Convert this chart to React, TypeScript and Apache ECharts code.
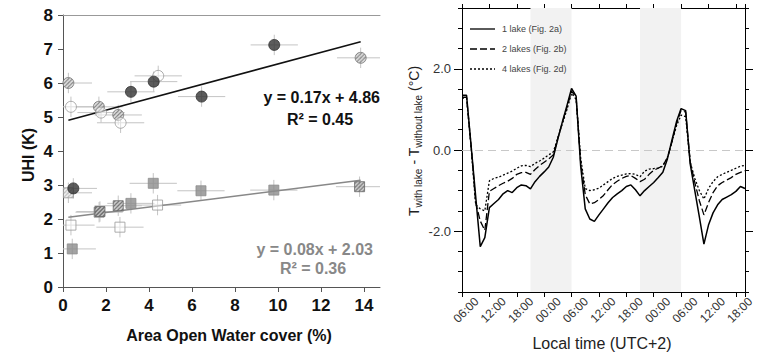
import React, { useEffect, useRef } from "react";
import * as echarts from "echarts";

// ---------- Left panel data ----------
const hatchCircles = [[0.25, 6.0], [1.67, 5.3], [2.57, 5.06], [13.85, 6.74]];
const openCircles = [[0.37, 5.3], [1.77, 5.13], [2.68, 4.83], [4.43, 6.21]];
const darkCircles = [[3.16, 5.74], [4.22, 6.04], [6.45, 5.6], [9.83, 7.12], [0.48, 2.9]];
const lightHatchSquares = [[0.25, 2.77]];
const openSquares = [[0.37, 1.82], [2.65, 1.76], [4.4, 2.41]];
const hatchSquares = [[1.72, 2.22], [2.57, 2.39], [13.8, 2.95]];
const graySquares = [[0.43, 1.12], [1.68, 2.2], [3.16, 2.46], [4.2, 3.05], [6.42, 2.83], [9.81, 2.85]];
const xErrors = [1.1];
const yErrors = [0.3];
const upperFit = [0.17, 4.86, 0.45]; // slope, intercept, r2
const lowerFit = [0.08, 2.03, 0.36];
const fitRange = [0.25, 13.85];
const leftXTicks = [0, 2, 4, 6, 8, 10, 12, 14];

// ---------- Right panel data ----------
const hours = [0, 1, 2, 3, 4, 5, 6, 7, 8, 9, 10, 11, 12, 13, 14, 15, 16, 17, 18, 19, 20, 21, 22, 23, 24, 25, 26, 27, 28, 29, 30,
  31, 32, 33, 34, 35, 36, 37, 38, 39, 40, 41, 42, 43, 44, 45, 46, 47, 48, 49, 50, 51, 52, 53, 54, 55, 56, 57, 58, 59, 60, 61, 62];
const oneLake = [1.35, 1.35, 0.1, -1.15, -2.38, -2.16, -1.42, -1.32, -1.22, -1.08, -1.0, -1.05, -0.93, -0.86, -0.88, -0.96,
  -0.78, -0.65, -0.54, -0.42, -0.18, 0.27, 0.7, 1.1, 1.52, 1.33, -0.4, -1.45, -1.7, -1.76, -1.6, -1.45, -1.3, -1.17, -1.08,
  -1.0, -0.9, -0.86, -0.98, -1.13, -1.0, -0.9, -0.8, -0.68, -0.55, -0.22, 0.25, 0.7, 1.02, 0.97, -0.35, -1.0, -1.65, -2.32,
  -1.85, -1.55, -1.35, -1.22, -1.16, -1.1, -1.02, -0.9, -0.95];
const twoLakes = [1.3, 1.3, 0.1, -1.3, -1.75, -1.98, -1.02, -0.95, -0.88, -0.82, -0.77, -0.7, -0.6, -0.56, -0.55, -0.6,
  -0.48, -0.38, -0.3, -0.22, -0.12, 0.3, 0.68, 1.05, 1.45, 1.3, -0.3, -1.1, -1.33, -1.3, -1.22, -1.12, -0.98, -0.85, -0.77,
  -0.7, -0.65, -0.63, -0.7, -0.78, -0.72, -0.6, -0.5, -0.45, -0.38, -0.2, 0.2, 0.65, 0.98, 0.93, -0.3, -0.8, -1.25, -1.6,
  -1.3, -1.05, -0.88, -0.8, -0.74, -0.68, -0.6, -0.55, -0.51];
const fourLakes = [1.28, 1.28, 0.05, -1.35, -1.45, -1.5, -0.76, -0.7, -0.67, -0.62, -0.57, -0.52, -0.45, -0.39, -0.38, -0.41,
  -0.33, -0.27, -0.2, -0.12, -0.05, 0.3, 0.65, 1.0, 1.4, 1.25, -0.2, -0.95, -1.0, -0.98, -0.94, -0.86, -0.78, -0.7, -0.65,
  -0.62, -0.59, -0.58, -0.6, -0.66, -0.52, -0.47, -0.46, -0.44, -0.4, -0.18, 0.2, 0.6, 0.86, 0.82, -0.3, -0.7, -1.0, -1.21,
  -0.95, -0.78, -0.66, -0.6, -0.55, -0.5, -0.45, -0.4, -0.38];
const seriesNames = ["1 lake (Fig. 2a)", "2 lakes (Fig. 2b)", "4 lakes (Fig. 2d)"];
const seriesDashes: (number[] | null)[] = [null, [7, 3], [2, 2]];
const timeTicks = [0, 6, 12, 18, 24, 30, 36, 42, 48, 54, 60];
const timeLabels = ["06:00", "12:00", "18:00", "00:00", "06:00", "12:00", "18:00", "00:00", "06:00", "12:00", "18:00"];
const nightPeriods = [[15, 24], [39, 48]];
const yLabelValues = [-2, 0, 2];

const FONT = "'Liberation Sans', Arial, Helvetica, sans-serif";

const pair = (xs: number[], ys: number[]) => xs.map((x, i) => [x, ys[i]]);
const fitLine = (f: number[]) => fitRange.map((x) => [x, f[0] * x + f[1]]);

function hatchPattern(bg: string, fg: string, symbolSize: number) {
  const c = document.createElement("canvas");
  c.width = 4;
  c.height = 4;
  const ctx = c.getContext("2d")!;
  ctx.fillStyle = bg;
  ctx.fillRect(0, 0, 4, 4);
  ctx.strokeStyle = fg;
  ctx.lineWidth = 1.1;
  ctx.beginPath();
  ctx.moveTo(-1, 5);
  ctx.lineTo(5, -1);
  ctx.moveTo(-1, 1);
  ctx.lineTo(1, -1);
  ctx.moveTo(3, 5);
  ctx.lineTo(5, 3);
  ctx.stroke();
  const s = 2 / symbolSize;
  return { type: "pattern", image: c, repeat: "repeat", scaleX: s, scaleY: s };
}

export default function App() {
  const ref = useRef<HTMLDivElement>(null);
  useEffect(() => {
    if (!ref.current) return;
    const chart = echarts.init(ref.current, null, { renderer: "svg" });
    const allPoints = [
      ...hatchCircles, ...openCircles, ...darkCircles,
      ...lightHatchSquares, ...openSquares, ...hatchSquares, ...graySquares,
    ];
    const xErr = xErrors[0];
    const yErr = yErrors[0];
    const lineBase = {
      type: "line",
      xAxisIndex: 2,
      yAxisIndex: 1,
      symbol: "none",
      showSymbol: false,
      smooth: false,
    };
    const noZero = { onZero: false };
    const legendGraphics: any[] = [];
    seriesNames.forEach((name, i) => {
      const y = 29 + i * 20;
      legendGraphics.push({
        type: "line", z: 100,
        shape: { x1: 470, y1: y, x2: 495, y2: y },
        style: { stroke: "#000", lineWidth: 1.3, lineDash: seriesDashes[i] || undefined },
      });
      legendGraphics.push({
        type: "text", x: 502, y, z: 100,
        style: { text: name, font: `9px ${FONT}`, fill: "#444", textAlign: "left", textVerticalAlign: "middle" },
      });
    });
    const option: any = {
      animation: false,
      backgroundColor: "#ffffff",
      textStyle: { fontFamily: FONT },
      grid: [
        { left: 63, right: 381, top: 15, bottom: 65 },
        { left: 462, right: 16, top: 8, bottom: 60 },
      ],
      xAxis: [
        {
          gridIndex: 0, type: "value", min: 0, max: 14.75,
          axisLine: { ...noZero, lineStyle: { color: "#555", width: 1 } },
          axisTick: { show: true, length: 5, customValues: leftXTicks, lineStyle: { color: "#555" } },
          axisLabel: {
            customValues: leftXTicks, margin: 10,
            fontSize: 17, fontWeight: "bold", color: "#111", fontFamily: FONT,
          },
          splitLine: { show: false },
        },
        {
          gridIndex: 0, type: "value", min: 0, max: 14.75, position: "top",
          axisLine: { show: true, ...noZero, lineStyle: { color: "#999" } },
          axisTick: { show: false }, axisLabel: { show: false }, splitLine: { show: false },
        },
        {
          gridIndex: 1, type: "value", min: 0, max: 62, interval: 6,
          axisLine: { ...noZero, lineStyle: { color: "#000", width: 1 } },
          axisTick: { show: true, length: 5, lineStyle: { color: "#000" } },
          axisLabel: { show: false },
          splitLine: { show: false },
        },
        {
          gridIndex: 1, type: "value", min: 0, max: 62, interval: 6, position: "top",
          axisLine: { show: true, ...noZero, lineStyle: { color: "#000" } },
          axisTick: { show: true, length: 4, lineStyle: { color: "#000" } },
          axisLabel: { show: false }, splitLine: { show: false },
        },
      ],
      yAxis: [
        {
          gridIndex: 0, type: "value", min: 0, max: 8, interval: 1,
          axisLine: { show: true, ...noZero, lineStyle: { color: "#555" } },
          axisTick: { show: true, length: 5, lineStyle: { color: "#555" } },
          axisLabel: { margin: 10, fontSize: 17, fontWeight: "bold", color: "#111", fontFamily: FONT },
          splitLine: { show: false },
        },
        {
          gridIndex: 1, type: "value", min: -3.5, max: 3.5, interval: 0.5,
          axisLine: { show: true, ...noZero, lineStyle: { color: "#000" } },
          axisTick: { show: true, length: 4, lineStyle: { color: "#000" } },
          axisLabel: {
            customValues: yLabelValues, margin: 11, fontSize: 13, color: "#333", fontFamily: FONT,
            formatter: (v: number) => v.toFixed(1),
          },
          splitLine: { show: false },
        },
        {
          gridIndex: 1, type: "value", min: -3.5, max: 3.5, interval: 0.5, position: "right",
          axisLine: { show: true, ...noZero, lineStyle: { color: "#000" } },
          axisTick: { show: true, length: 4, lineStyle: { color: "#000" } },
          axisLabel: { show: false }, splitLine: { show: false },
        },
        {
          gridIndex: 1, type: "value", min: -3.5, max: 3.5, position: "left",
          axisLine: { show: false, ...noZero },
          axisTick: { show: true, length: 8, customValues: yLabelValues, lineStyle: { color: "#000" } },
          axisLabel: { show: false }, splitLine: { show: false },
        },
        {
          gridIndex: 1, type: "value", min: -3.5, max: 3.5, position: "right",
          axisLine: { show: false, ...noZero },
          axisTick: { show: true, length: 8, customValues: yLabelValues, lineStyle: { color: "#000" } },
          axisLabel: { show: false }, splitLine: { show: false },
        },
      ],
      series: [
        {
          type: "custom", xAxisIndex: 0, yAxisIndex: 0, silent: true, clip: true, z: 1,
          data: allPoints,
          renderItem: (params: any, api: any) => {
            const x = api.value(0);
            const y = api.value(1);
            const l = api.coord([Math.max(0, x - xErr), y]);
            const r = api.coord([x + xErr, y]);
            const t = api.coord([x, y + yErr]);
            const b = api.coord([x, y - yErr]);
            const st = { stroke: "#c4c4c4", lineWidth: 1 };
            return {
              type: "group",
              children: [
                { type: "line", shape: { x1: l[0], y1: l[1], x2: r[0], y2: r[1] }, style: st },
                { type: "line", shape: { x1: t[0], y1: t[1], x2: b[0], y2: b[1] }, style: st },
              ],
            };
          },
        },
        {
          // rotated time-of-day tick labels for the right panel
          type: "custom", xAxisIndex: 2, yAxisIndex: 1, silent: true, clip: false, z: 10,
          data: timeTicks.map((t, i) => [t, -3.5, i]),
          renderItem: (params: any, api: any) => {
            const p = api.coord([api.value(0), api.value(1)]);
            const label = timeLabels[api.value(2)];
            return {
              type: "text",
              x: p[0] + 4,
              y: p[1] + 18,
              rotation: Math.PI / 4,
              style: {
                text: label, font: `12px ${FONT}`, fill: "#333",
                textAlign: "center", textVerticalAlign: "middle",
              },
            };
          },
        },
        {
          type: "line", xAxisIndex: 0, yAxisIndex: 0, data: fitLine(upperFit), symbol: "none",
          lineStyle: { color: "#111", width: 1.5 }, z: 2, silent: true,
        },
        {
          type: "line", xAxisIndex: 0, yAxisIndex: 0, data: fitLine(lowerFit), symbol: "none",
          lineStyle: { color: "#888", width: 1.5 }, z: 2, silent: true,
        },
        {
          type: "scatter", xAxisIndex: 0, yAxisIndex: 0, data: hatchCircles, symbol: "circle", symbolSize: 11, z: 3,
          itemStyle: { color: hatchPattern("#e0e0e0", "#5a5a5a", 11), borderColor: "#777", borderWidth: 1 },
        },
        {
          type: "scatter", xAxisIndex: 0, yAxisIndex: 0, data: openCircles, symbol: "circle", symbolSize: 11, z: 3,
          itemStyle: { color: "rgba(255,255,255,0.6)", borderColor: "#999", borderWidth: 1 },
        },
        {
          type: "scatter", xAxisIndex: 0, yAxisIndex: 0, data: darkCircles, symbol: "circle", symbolSize: 11, z: 4,
          itemStyle: { color: "#333", borderColor: "#333", borderWidth: 1 },
        },
        {
          type: "scatter", xAxisIndex: 0, yAxisIndex: 0, data: graySquares, symbol: "rect", symbolSize: 10, z: 3,
          itemStyle: { color: "#8c8c8c", borderColor: "#8c8c8c", borderWidth: 1 },
        },
        {
          type: "scatter", xAxisIndex: 0, yAxisIndex: 0, data: openSquares, symbol: "rect", symbolSize: 10, z: 3,
          itemStyle: { color: "rgba(255,255,255,0.6)", borderColor: "#999", borderWidth: 1 },
        },
        {
          type: "scatter", xAxisIndex: 0, yAxisIndex: 0, data: hatchSquares, symbol: "rect", symbolSize: 10, z: 4,
          itemStyle: { color: hatchPattern("#d4d4d4", "#333", 10), borderColor: "#666", borderWidth: 1 },
        },
        {
          type: "scatter", xAxisIndex: 0, yAxisIndex: 0, data: lightHatchSquares, symbol: "rect", symbolSize: 10, z: 3,
          itemStyle: { color: hatchPattern("#f4f4f4", "#a0a0a0", 10), borderColor: "#999", borderWidth: 1 },
        },
        {
          ...lineBase, name: seriesNames[0], data: pair(hours, oneLake),
          lineStyle: { color: "#000", width: 1.5, type: "solid" },
          z: 5,
          markArea: {
            silent: true,
            itemStyle: { color: "#f2f2f2" },
            data: nightPeriods.map((p) => [{ xAxis: p[0] }, { xAxis: p[1] }]),
          },
          markLine: {
            silent: true, symbol: "none", label: { show: false },
            lineStyle: { color: "#c8c8c8", type: [8, 5], width: 1 },
            data: [{ yAxis: 0 }],
          },
        },
        {
          ...lineBase, name: seriesNames[1], data: pair(hours, twoLakes),
          lineStyle: { color: "#000", width: 1.3, type: seriesDashes[1] },
          z: 5,
        },
        {
          ...lineBase, name: seriesNames[2], data: pair(hours, fourLakes),
          lineStyle: { color: "#000", width: 1.3, type: seriesDashes[2] },
          z: 5,
        },
      ],
      graphic: [
        ...legendGraphics,
        {
          type: "text", x: 28, y: 155, rotation: Math.PI / 2,
          style: { text: "UHI (K)", font: `bold 16px ${FONT}`, fill: "#111", textAlign: "center", textVerticalAlign: "middle" },
        },
        {
          type: "text", x: 229, y: 335,
          style: { text: "Area Open Water cover (%)", font: `bold 16px ${FONT}`, fill: "#111", textAlign: "center", textVerticalAlign: "middle" },
        },
        {
          type: "text", x: 380, y: 97,
          style: { text: `y = ${upperFit[0]}x + ${upperFit[1]}`, font: `bold 16px ${FONT}`, fill: "#111", textAlign: "right", textVerticalAlign: "middle" },
        },
        {
          type: "text", x: 320, y: 119,
          style: { text: `R² = ${upperFit[2].toFixed(2)}`, font: `bold 16px ${FONT}`, fill: "#111", textAlign: "center", textVerticalAlign: "middle" },
        },
        {
          type: "text", x: 373, y: 249,
          style: { text: `y = ${lowerFit[0]}x + ${lowerFit[1]}`, font: `bold 16px ${FONT}`, fill: "#888", textAlign: "right", textVerticalAlign: "middle" },
        },
        {
          type: "text", x: 313, y: 268,
          style: { text: `R² = ${lowerFit[2].toFixed(2)}`, font: `bold 16px ${FONT}`, fill: "#888", textAlign: "center", textVerticalAlign: "middle" },
        },
        {
          type: "text", x: 602, y: 343,
          style: { text: "Local time (UTC+2)", font: `16px ${FONT}`, fill: "#222", textAlign: "center", textVerticalAlign: "middle" },
        },
        {
          type: "text", x: 414, y: 141, rotation: Math.PI / 2,
          style: {
            text: "{t|T}{s|with lake}{t| - T}{s|without lake}{t| (°C)}",
            textAlign: "center", textVerticalAlign: "middle",
            rich: {
              t: { fontSize: 14, lineHeight: 19, fontFamily: FONT, fill: "#222", color: "#222" },
              s: { fontSize: 10, lineHeight: 11, fontFamily: FONT, fill: "#222", color: "#222", verticalAlign: "bottom" },
            },
          },
        },
      ],
    };
    chart.setOption(option);
    return () => chart.dispose();
  }, []);
  return <div ref={ref} style={{ position: "fixed", left: 0, top: 0, width: 761, height: 352 }} />;
}
